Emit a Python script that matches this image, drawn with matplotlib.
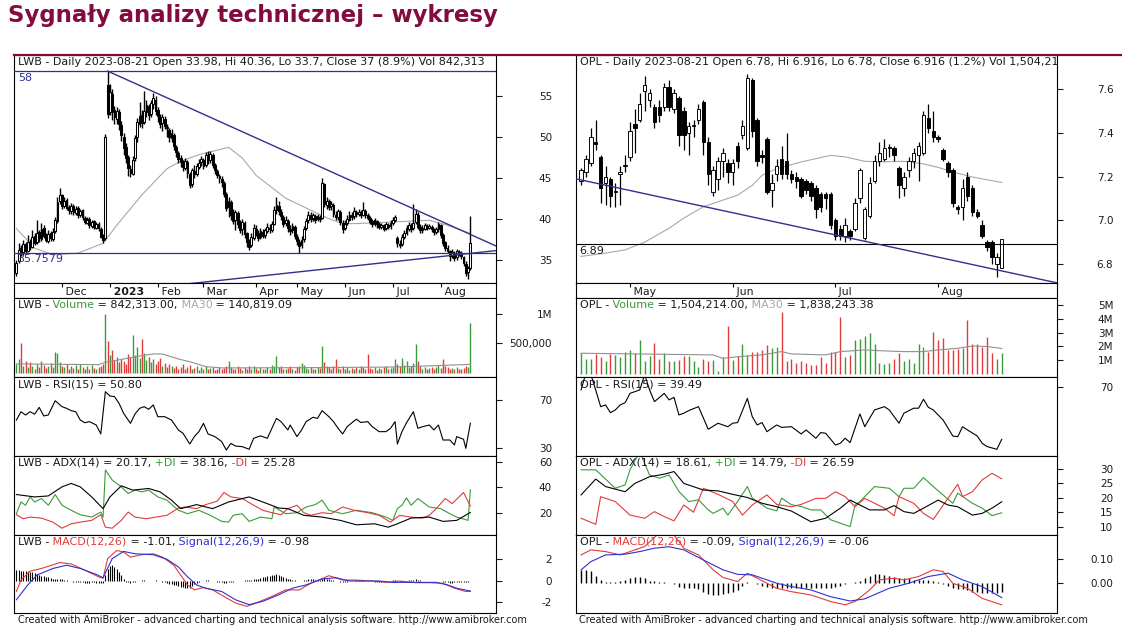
import matplotlib
matplotlib.use("Agg")
import matplotlib.pyplot as plt
from matplotlib.lines import Line2D

# ---------------- LWB daily bars (index 0 = early Nov 2022, 199 = 2023-08-21) ----------------
lwb_open = [
    33.4, 34.8, 36.4, 35.9, 36.9, 36.1, 37.1, 36.6, 37.9, 37.1,
    38.4, 37.5, 38.9, 37.8, 37.3, 38.2, 37.5, 38.5, 39.7, 42.1,
    42.9, 41.5, 42.3, 41.4, 40.9, 41.6, 40.7, 41.3, 40.4, 41.0,
    40.1, 39.5, 40.0, 39.1, 39.7, 38.9, 39.4, 38.8, 37.9, 37.6,
    56.3, 53.0, 55.2, 53.2, 52.2, 53.0, 51.4, 50.0, 48.8, 47.5,
    46.0, 45.5, 47.4, 49.9, 51.6, 52.6, 51.8, 53.0, 53.8, 52.8,
    54.0, 54.5, 53.2, 52.4, 51.7, 52.2, 51.2, 50.8, 49.8, 50.2,
    48.8, 48.0, 47.4, 46.8, 46.2, 46.9, 45.5, 44.2, 45.8, 45.5,
    46.3, 46.9, 47.2, 46.5, 47.7, 47.2, 47.8, 46.5, 45.8, 45.2,
    44.8, 44.4, 43.0, 41.4, 42.0, 40.6, 39.8, 40.7, 39.5, 38.7,
    39.5, 38.2, 37.2, 36.8, 37.7, 38.8, 38.3, 37.8, 38.4, 38.0,
    38.5, 38.9, 38.6, 39.4, 41.0, 41.6, 40.8, 40.2, 39.5, 39.7,
    38.8, 38.6, 39.0, 37.8, 37.2, 36.8, 37.5, 38.9, 39.8, 40.4,
    40.1, 40.3, 40.0, 40.2, 40.1, 44.2, 41.7, 42.1, 41.5, 41.7,
    40.5, 40.2, 40.8, 39.5, 38.9, 39.5, 39.9, 40.4, 40.3, 40.8,
    40.6, 40.7, 40.5, 40.9, 40.4, 40.1, 39.7, 39.4, 39.7, 39.3,
    39.0, 39.2, 38.9, 39.2, 39.1, 39.5, 39.8, 37.6, 36.9, 36.9,
    37.8, 38.3, 38.8, 39.1, 38.9, 39.6, 40.5, 39.0, 38.6, 38.8,
    39.1, 38.9, 39.0, 38.7, 38.4, 38.7, 39.2, 38.0, 37.1, 36.4,
    36.0, 35.5, 35.8, 35.3, 35.9, 35.8, 35.3, 34.5, 33.5, 33.98]
lwb_high = [
    35.0, 37.0, 36.8, 37.4, 37.2, 38.0, 37.5, 38.6, 38.2, 39.8,
    38.6, 39.5, 39.2, 38.2, 38.6, 38.5, 38.9, 40.2, 42.6, 43.8,
    43.0, 42.6, 42.5, 41.7, 41.9, 41.8, 41.6, 41.5, 41.2, 41.2,
    40.3, 40.2, 40.2, 39.9, 39.9, 39.6, 39.6, 39.0, 38.1, 50.3,
    58.0, 56.4, 55.8, 53.8, 53.6, 53.4, 51.9, 50.4, 49.2, 47.8,
    46.6, 47.6, 50.2, 52.3, 54.2, 53.2, 55.6, 54.5, 54.0, 54.5,
    55.3, 54.9, 53.6, 52.8, 52.8, 52.5, 51.6, 51.1, 50.9, 50.4,
    49.0, 48.3, 47.8, 47.2, 47.4, 47.1, 45.7, 46.2, 46.5, 46.8,
    47.3, 47.6, 47.4, 48.1, 48.3, 48.3, 48.0, 46.8, 46.1, 45.5,
    45.2, 44.6, 43.2, 42.7, 42.3, 41.2, 41.1, 40.9, 39.8, 40.0,
    39.7, 38.4, 37.5, 38.2, 39.3, 39.2, 38.6, 38.9, 38.7, 38.9,
    39.5, 39.3, 39.7, 41.6, 42.7, 42.2, 41.2, 40.5, 40.3, 40.0,
    39.2, 39.5, 39.2, 38.1, 37.5, 37.9, 39.1, 40.1, 40.9, 40.8,
    40.7, 40.6, 40.6, 40.5, 45.0, 44.4, 42.6, 42.4, 42.1, 41.9,
    40.9, 41.2, 41.0, 39.8, 39.8, 40.4, 40.9, 40.8, 41.4, 41.1,
    41.2, 41.0, 42.0, 41.2, 40.7, 40.3, 40.0, 40.1, 39.9, 39.6,
    39.5, 39.4, 39.6, 39.5, 39.8, 40.2, 40.5, 37.9, 37.4, 38.1,
    38.6, 39.2, 39.6, 39.5, 41.8, 41.2, 40.8, 39.3, 39.2, 39.5,
    39.4, 39.3, 39.2, 38.9, 39.0, 39.6, 39.4, 38.2, 37.3, 36.8,
    36.2, 36.3, 36.0, 36.3, 36.2, 36.1, 35.5, 34.8, 34.2, 40.36]
lwb_low = [
    33.0, 34.6, 35.4, 35.6, 35.7, 35.9, 36.2, 36.4, 36.8, 36.9,
    37.2, 37.3, 37.6, 37.1, 37.0, 37.3, 37.3, 38.2, 39.5, 41.8,
    41.2, 41.3, 41.0, 40.6, 40.6, 40.5, 40.5, 40.1, 40.2, 39.8,
    39.3, 39.3, 38.9, 38.9, 38.7, 38.7, 38.5, 37.6, 37.0, 37.4,
    52.3, 52.6, 52.0, 51.5, 51.6, 50.8, 49.5, 47.8, 46.8, 45.2,
    45.1, 45.3, 47.0, 49.4, 51.2, 51.0, 51.5, 52.4, 52.0, 52.4,
    53.4, 52.7, 51.8, 51.0, 50.7, 50.9, 49.9, 49.3, 49.4, 48.4,
    47.5, 46.8, 46.3, 45.8, 45.9, 45.0, 43.8, 43.9, 45.0, 45.2,
    46.0, 46.4, 46.1, 46.3, 46.7, 46.8, 46.2, 45.5, 44.9, 44.4,
    43.9, 42.6, 40.9, 40.2, 39.9, 39.3, 38.6, 38.9, 38.2, 38.0,
    37.6, 36.6, 36.2, 36.5, 37.4, 37.9, 37.3, 37.5, 37.6, 37.7,
    38.2, 38.3, 38.4, 39.2, 40.6, 40.4, 39.8, 39.0, 39.1, 38.4,
    38.0, 38.2, 37.5, 36.8, 35.8, 36.4, 37.2, 38.6, 39.5, 39.6,
    39.7, 39.5, 39.7, 39.6, 40.0, 41.4, 41.2, 41.0, 41.0, 40.2,
    39.8, 39.9, 39.2, 38.2, 38.6, 39.2, 39.7, 39.9, 40.0, 40.2,
    40.3, 40.1, 40.3, 40.1, 39.8, 39.3, 39.0, 39.1, 38.9, 38.7,
    38.7, 38.5, 38.6, 38.7, 38.8, 39.2, 39.6, 36.6, 36.4, 36.7,
    37.5, 38.0, 38.5, 38.4, 38.6, 39.3, 38.7, 38.2, 38.3, 38.6,
    38.6, 38.7, 38.4, 38.0, 38.1, 38.4, 37.7, 36.7, 36.0, 35.8,
    34.8, 35.2, 34.9, 35.0, 35.4, 35.1, 34.2, 33.0, 32.7, 33.7]
lwb_close = [
    34.6, 36.2, 35.8, 36.9, 36.0, 37.2, 36.5, 37.8, 37.0, 38.3,
    37.6, 38.8, 37.9, 37.4, 38.1, 37.6, 38.4, 39.8, 42.0, 42.9,
    41.6, 42.2, 41.3, 41.0, 41.5, 40.8, 41.2, 40.5, 40.9, 40.2,
    39.6, 39.9, 39.2, 39.6, 39.0, 39.3, 38.9, 37.8, 37.4, 50.0,
    52.8, 55.4, 53.0, 52.4, 53.1, 51.6, 50.2, 48.6, 47.4, 46.2,
    45.6, 47.2, 49.8, 51.8, 52.5, 51.7, 53.1, 53.9, 52.6, 54.1,
    54.7, 53.1, 52.5, 51.6, 52.4, 51.3, 51.0, 49.9, 50.4, 48.9,
    48.1, 47.3, 46.9, 46.3, 47.0, 45.6, 44.1, 45.9, 45.4, 46.4,
    46.8, 47.3, 46.4, 47.8, 47.1, 47.9, 46.6, 45.9, 45.3, 44.9,
    44.5, 43.0, 41.3, 42.1, 40.5, 39.7, 40.8, 39.4, 38.6, 39.6,
    38.1, 37.1, 36.6, 37.8, 38.9, 38.2, 37.7, 38.5, 37.9, 38.6,
    39.0, 38.7, 39.4, 41.1, 41.7, 40.9, 40.3, 39.4, 39.8, 38.9,
    38.5, 39.1, 37.9, 37.3, 36.7, 37.4, 38.8, 39.7, 40.5, 40.0,
    40.4, 39.9, 40.3, 40.0, 44.4, 41.8, 42.2, 41.4, 41.8, 40.6,
    40.2, 40.9, 39.6, 38.8, 39.4, 40.0, 40.5, 40.2, 40.9, 40.6,
    40.8, 40.5, 41.0, 40.4, 40.1, 39.6, 39.4, 39.8, 39.3, 39.0,
    39.2, 38.8, 39.3, 39.0, 39.5, 39.8, 40.2, 37.0, 36.8, 37.8,
    38.2, 38.9, 39.2, 38.8, 39.5, 40.6, 39.0, 38.6, 38.9, 39.2,
    38.9, 39.1, 38.7, 38.4, 38.8, 39.3, 38.0, 37.0, 36.4, 36.1,
    35.4, 35.9, 35.2, 36.0, 35.8, 35.4, 34.6, 33.4, 33.98, 37.0]
lwb_volume_k = [
    150, 240, 500, 120, 200, 90, 180, 110, 70, 140,
    100, 190, 130, 80, 110, 160, 90, 350, 340, 180,
    110, 90, 150, 70, 120, 80, 130, 60, 140, 90,
    70, 110, 60, 130, 80, 70, 90, 120, 150, 1000,
    540, 300, 380, 220, 270, 180, 230, 200, 150, 320,
    260, 650, 300, 430, 250, 570, 330, 220, 260, 180,
    240, 150, 200, 250, 120, 160, 90, 140, 110, 80,
    120, 60, 90, 150, 70, 100, 130, 60, 80, 110,
    50, 90, 70, 120, 60, 80, 100, 40, 70, 90,
    60, 80, 110, 200, 90, 70, 60, 120, 80, 50,
    90, 60, 110, 70, 120, 80, 50, 90, 60, 70,
    100, 60, 130, 120, 280, 90, 110, 70, 60, 80,
    110, 70, 50, 90, 120, 160, 130, 80, 60, 90,
    70, 60, 100, 80, 460, 180, 120, 90, 70, 110,
    230, 80, 60, 110, 70, 90, 50, 80, 60, 100,
    70, 110, 90, 60, 315, 80, 70, 90, 50, 80,
    60, 90, 120, 70, 80, 100, 230, 140, 110, 250,
    130, 190, 90, 120, 160, 480, 200, 110, 70, 90,
    60, 80, 90, 70, 100, 130, 80, 230, 120, 90,
    70, 80, 60, 90, 70, 60, 80, 110, 90, 842.313]
lwb_macd_hist = [
    1.0, 1.0, 0.95, 0.95, 0.9, 0.9, 0.85, 0.8, 0.7, 0.6,
    0.5, 0.45, 0.4, 0.35, 0.3, 0.25, 0.2, 0.2, 0.2, 0.15,
    0.15, 0.1, 0.05, 0.0, -0.05, -0.1, -0.1, -0.15, -0.15, -0.15,
    -0.2, -0.2, -0.2, -0.15, -0.15, -0.2, -0.2, -0.25, -0.2, 0.5,
    1.1, 1.4, 1.5, 1.3, 1.1, 0.8, 0.5, 0.2, -0.1, -0.15,
    -0.2, -0.15, -0.1, -0.05, 0.0, 0.05, 0.05, 0.0, -0.05, -0.05,
    0.0, 0.05, 0.0, -0.05, -0.1, -0.15, -0.2, -0.3, -0.35, -0.4,
    -0.45, -0.5, -0.55, -0.6, -0.65, -0.7, -0.65, -0.5, -0.3, -0.2,
    -0.1, -0.05, 0.0, 0.05, 0.05, 0.0, -0.05, -0.05, -0.1, -0.1,
    -0.15, -0.2, -0.2, -0.15, -0.1, -0.1, -0.05, -0.05, 0.0, 0.0,
    0.05, 0.05, 0.1, 0.1, 0.15, 0.15, 0.2, 0.25, 0.3, 0.35,
    0.4, 0.45, 0.5, 0.55, 0.6, 0.55, 0.45, 0.35, 0.25, 0.2,
    0.15, 0.1, 0.05, 0.0, -0.05, 0.0, 0.05, 0.1, 0.15, 0.15,
    0.15, 0.1, 0.1, 0.05, 0.2, 0.25, 0.2, 0.15, 0.1, 0.05,
    0.0, -0.05, -0.1, -0.15, -0.15, -0.1, -0.05, 0.0, 0.0, 0.05,
    0.05, 0.05, 0.05, 0.0, 0.0, -0.05, -0.05, -0.1, -0.1, -0.1,
    -0.1, -0.05, -0.05, 0.0, 0.0, 0.05, 0.05, -0.1, -0.15, -0.1,
    -0.05, 0.0, 0.05, 0.05, 0.1, 0.15, 0.1, 0.05, 0.0, 0.0,
    0.0, 0.0, 0.0, -0.05, -0.05, 0.0, -0.05, -0.1, -0.15, -0.15,
    -0.2, -0.2, -0.15, -0.15, -0.15, -0.1, -0.1, -0.1, -0.1, -0.03]

lwb_ma_x = [0, 8, 16, 27, 38, 44, 55, 66, 72, 80, 93, 99, 105, 118, 127, 137, 143, 149, 165, 181, 189, 199]
lwb_ma_y = [38.8, 36.4, 35.6, 35.8, 37.0, 39.2, 42.9, 46.1, 47.0, 47.8, 48.7, 47.4, 45.3, 42.5, 41.3,
            40.0, 39.4, 39.4, 39.6, 39.8, 39.2, 38.2]
lwb_volma_x = [0, 36, 39, 47, 55, 60, 64, 71, 77, 83, 90, 130, 165, 181, 199]
lwb_volma_k = [148, 136, 176, 233, 290, 318, 318, 233, 176, 102, 80, 85, 95, 115, 140.8]

lwb_rsi_x = [0, 2, 4, 6, 8, 10, 12, 14, 17, 20, 22, 24, 26, 28, 30, 32, 35, 37, 39, 41,
             43, 45, 47, 50, 52, 54, 56, 58, 60, 62, 65, 68, 71, 73, 76, 78, 80, 82, 84, 87,
             90, 92, 94, 96, 99, 102, 104, 107, 110, 112, 114, 116, 119, 120, 123, 125, 127, 130, 132, 134,
             137, 139, 141, 143, 145, 149, 151, 154, 156, 159, 162, 164, 166, 167, 169, 171, 174, 176, 178, 181,
             183, 185, 187, 190, 192, 193, 196, 197, 199]
lwb_rsi = [53.4, 60.3, 57.6, 60.3, 58.3, 63.9, 56.8, 57.6, 69.4, 64.5, 63.1, 61.2, 60.3, 53.4, 51.2, 52.1, 49.3, 41.9, 76.9, 73.3,
           72.8, 67.2, 59.0, 50.7, 58.5, 63.1, 64.5, 62.3, 65.9, 56.2, 56.2, 53.4, 45.2, 42.5, 33.6, 39.7, 43.8, 50.7, 41.9, 39.7,
           35.6, 28.6, 34.1, 31.9, 31.4, 29.2, 38.3, 40.3, 38.3, 46.6, 54.8, 52.1, 45.2, 49.3, 39.7, 45.2, 52.1, 55.7, 54.8, 61.2,
           56.2, 52.1, 46.6, 41.9, 48.0, 54.1, 51.4, 52.1, 47.9, 43.8, 43.8, 46.6, 52.1, 33.6, 43.8, 51.2, 60.3, 46.6, 47.9, 49.3,
           45.2, 49.3, 36.9, 36.9, 32.8, 39.7, 37.5, 30.0, 50.8]

lwb_adx_x = [0, 8, 14, 20, 24, 28, 33, 38, 41, 46, 51, 58, 63, 68, 72, 79, 86, 93, 102, 108,
             115, 119, 126, 134, 142, 149, 157, 163, 167, 173, 181, 187, 193, 199]
lwb_adx = [34.4, 32.5, 33.3, 40.5, 43.2, 40.5, 32.5, 23.2, 32.5, 41.3, 37.9, 39.2, 36.5, 29.9, 23.2, 26.4, 23.2, 28.5, 32.5, 28.5,
           23.7, 23.2, 17.9, 16.5, 13.9, 10.4, 11.2, 8.5, 11.2, 15.7, 16.5, 13.1, 13.9, 20.17]
lwb_pdi_x = [0, 2, 4, 6, 8, 11, 14, 17, 20, 24, 28, 33, 37, 38, 39, 42, 46, 49, 52, 55,
             58, 62, 66, 71, 75, 80, 85, 90, 93, 95, 99, 102, 107, 112, 113, 118, 123, 127, 131, 134,
             137, 140, 143, 149, 156, 162, 165, 167, 169, 171, 173, 176, 181, 186, 190, 193, 198, 199]
lwb_pdi = [19.2, 28.5, 25.9, 32.5, 28.5, 31.2, 25.9, 34.4, 25.9, 21.9, 18.4, 16.5, 20.5, 16.5, 53.9, 45.9, 40.5, 35.2, 37.9, 36.5,
           37.9, 32.5, 29.9, 21.9, 19.2, 21.9, 17.9, 13.1, 12.5, 17.9, 19.2, 13.1, 16.5, 15.2, 24.5, 19.2, 20.0, 24.5, 26.4, 29.9,
           21.9, 20.5, 19.2, 21.9, 20.0, 16.5, 13.9, 23.2, 25.9, 31.7, 25.9, 31.2, 24.5, 23.2, 19.2, 16.5, 13.9, 38.16]
lwb_mdi_x = [0, 3, 6, 11, 16, 20, 24, 28, 33, 37, 39, 42, 46, 49, 52, 57, 61, 66, 71, 74,
             79, 83, 88, 91, 94, 99, 104, 108, 112, 116, 119, 123, 126, 129, 134, 138, 143, 148, 154, 159,
             164, 168, 173, 178, 181, 184, 188, 191, 196, 199]
lwb_mdi = [18.4, 15.2, 16.5, 15.7, 12.5, 7.7, 11.2, 12.5, 13.9, 18.4, 8.5, 7.7, 13.9, 20.5, 16.5, 15.2, 16.5, 17.9, 23.7, 24.5,
           23.2, 26.4, 29.1, 36.0, 32.5, 31.2, 25.9, 21.9, 20.0, 18.4, 23.2, 25.9, 20.0, 17.9, 20.0, 19.2, 24.5, 21.9, 20.0, 17.9,
           12.5, 17.9, 16.5, 15.7, 17.9, 23.2, 31.2, 27.2, 36.0, 25.28]

lwb_macd_x = [0, 2, 6, 11, 19, 24, 30, 36, 38, 40, 44, 47, 50, 55, 60, 64, 69, 72, 75, 78,
              82, 86, 91, 96, 101, 105, 112, 118, 124, 129, 137, 143, 149, 156, 162, 168, 175, 181, 187, 192,
              197, 199]
lwb_macd = [-1.02, 0.06, 0.90, 1.15, 1.71, 1.58, 0.99, 0.37, 0.22, 2.08, 2.85, 2.70, 2.23, 2.45, 2.54, 2.23, 1.46, 0.53, -0.40, -0.87,
            -0.65, -0.87, -1.49, -2.11, -2.42, -2.11, -1.49, -0.87, -0.87, -0.25, 0.47, 0.06, 0.06, -0.03, -0.16, -0.03, -0.19, -0.19, -0.25, -0.71,
            -1.02, -1.01]
lwb_sig_x = [0, 5, 9, 16, 22, 28, 35, 38, 42, 47, 52, 60, 66, 71, 75, 79, 83, 90, 96, 102,
             108, 115, 121, 127, 134, 140, 146, 153, 159, 165, 171, 178, 184, 189, 193, 199]
lwb_sig = [-1.80, -0.40, 0.53, 1.15, 1.46, 1.15, 0.59, 0.28, 2.08, 2.76, 2.54, 2.45, 2.02, 1.30, 0.37, -0.40, -0.71, -1.02, -1.80, -2.26,
           -1.95, -1.33, -0.71, -0.40, 0.16, 0.28, -0.03, -0.03, -0.03, -0.16, -0.16, -0.16, -0.16, -0.40, -0.71, -0.98]

lwb_down_x, lwb_down_y = [40, 210], [58.0, 36.7]
lwb_up_x, lwb_up_y = [70, 210], [31.9, 36.1]
lwb_levels = [58.0, 35.7579]
lwb_month_idx = [20, 41, 62, 82, 105, 123, 144, 165, 186]
lwb_month_lbl = ['Dec', '2023', 'Feb', 'Mar', 'Apr', 'May', 'Jun', 'Jul', 'Aug']

# ---------------- OPL daily bars (index 0 = 2023-04-17, 86 = 2023-08-21) ----------------
opl_open = [
    7.18, 7.22, 7.26, 7.36, 7.29, 7.17, 7.19, 7.13, 7.21, 7.25,
    7.29, 7.44, 7.46, 7.59, 7.55, 7.52, 7.52, 7.52, 7.61, 7.51,
    7.56, 7.50, 7.40, 7.43, 7.46, 7.54, 7.36, 7.13, 7.19, 7.27,
    7.26, 7.22, 7.34, 7.39, 7.33, 7.64, 7.46, 7.30, 7.37, 7.14,
    7.21, 7.28, 7.27, 7.21, 7.20, 7.19, 7.18, 7.17, 7.15, 7.12,
    7.12, 7.12, 7.00, 6.96, 6.93, 6.95, 6.96, 7.10, 6.92, 7.02,
    7.18, 7.27, 7.28, 7.33, 7.33, 7.24, 7.15, 7.23, 7.27, 7.30,
    7.31, 7.47, 7.41, 7.38, 7.32, 7.26, 7.23, 7.06, 7.06, 7.20,
    7.15, 7.04, 6.98, 6.90, 6.90, 6.80, 6.78]
opl_high = [
    7.24, 7.30, 7.42, 7.46, 7.30, 7.25, 7.20, 7.17, 7.25, 7.30,
    7.45, 7.51, 7.58, 7.66, 7.60, 7.53, 7.55, 7.63, 7.64, 7.60,
    7.57, 7.52, 7.45, 7.46, 7.53, 7.55, 7.38, 7.25, 7.29, 7.33,
    7.28, 7.28, 7.36, 7.46, 7.67, 7.65, 7.47, 7.32, 7.38, 7.21,
    7.28, 7.34, 7.40, 7.23, 7.22, 7.20, 7.19, 7.18, 7.16, 7.13,
    7.13, 7.13, 7.01, 6.98, 7.01, 6.96, 7.10, 7.24, 7.06, 7.20,
    7.30, 7.36, 7.37, 7.35, 7.34, 7.25, 7.22, 7.29, 7.33, 7.36,
    7.50, 7.53, 7.50, 7.39, 7.33, 7.27, 7.24, 7.07, 7.19, 7.22,
    7.16, 7.05, 7.00, 6.91, 6.91, 6.85, 6.916]
opl_low = [
    7.16, 7.20, 7.25, 7.32, 7.08, 7.07, 7.06, 7.06, 7.07, 7.22,
    7.27, 7.31, 7.45, 7.50, 7.52, 7.42, 7.45, 7.50, 7.50, 7.49,
    7.34, 7.32, 7.30, 7.38, 7.44, 7.30, 7.16, 7.11, 7.14, 7.20,
    7.17, 7.16, 7.24, 7.37, 7.32, 7.38, 7.25, 7.26, 7.12, 7.06,
    7.18, 7.19, 7.19, 7.17, 7.15, 7.10, 7.12, 7.09, 7.01, 7.04,
    7.05, 6.96, 6.91, 6.91, 6.90, 6.91, 6.95, 7.08, 6.91, 7.01,
    7.17, 7.25, 7.27, 7.29, 7.27, 7.10, 7.11, 7.20, 7.24, 7.18,
    7.30, 7.40, 7.36, 7.36, 7.27, 7.20, 7.06, 7.03, 7.00, 7.09,
    7.02, 7.01, 6.92, 6.86, 6.80, 6.74, 6.78]
opl_close = [
    7.23, 7.28, 7.38, 7.35, 7.15, 7.20, 7.11, 7.13, 7.22, 7.25,
    7.41, 7.42, 7.53, 7.62, 7.58, 7.45, 7.48, 7.61, 7.52, 7.58,
    7.39, 7.39, 7.43, 7.43, 7.51, 7.36, 7.21, 7.23, 7.27, 7.31,
    7.22, 7.26, 7.27, 7.43, 7.65, 7.41, 7.27, 7.29, 7.13, 7.17,
    7.25, 7.21, 7.21, 7.19, 7.18, 7.11, 7.14, 7.11, 7.05, 7.06,
    7.10, 6.98, 6.93, 6.93, 6.98, 6.93, 7.08, 7.23, 7.05, 7.17,
    7.27, 7.31, 7.33, 7.33, 7.30, 7.16, 7.20, 7.27, 7.31, 7.34,
    7.48, 7.42, 7.38, 7.37, 7.28, 7.22, 7.08, 7.05, 7.15, 7.11,
    7.04, 7.02, 6.93, 6.88, 6.83, 6.83, 6.916]
opl_volume_m = [
    1.5, 1.1, 1.1, 1.45, 1.25, 0.9, 1.45, 1.35, 1.25, 1.6,
    1.7, 1.5, 2.45, 0.9, 1.3, 2.25, 1.1, 1.5, 0.9, 0.9,
    1.0, 1.3, 1.3, 0.9, 0.5, 1.1, 0.9, 1.0, 0.2, 1.25,
    3.45, 1.0, 1.3, 2.2, 1.35, 1.55, 1.6, 1.7, 2.1, 1.85,
    1.95, 4.5, 0.95, 1.1, 0.75, 0.95, 0.75, 0.65, 0.65, 1.25,
    0.75, 1.6, 1.6, 4.1, 1.25, 1.35, 2.45, 2.5, 2.75, 2.95,
    2.2, 0.75, 0.7, 0.75, 1.1, 1.5, 0.9, 1.1, 0.8, 2.2,
    1.95, 1.6, 3.05, 2.45, 2.6, 1.75, 1.75, 1.8, 1.85, 3.9,
    2.2, 2.15, 1.95, 2.7, 1.5, 1.05, 1.504]
opl_macd_hist = [
    0.055, 0.055, 0.05, 0.03, 0.015, 0.005, 0.005, 0.005, 0.01, 0.015,
    0.02, 0.025, 0.025, 0.02, 0.01, 0.01, 0.005, 0.005, 0.0, -0.005,
    -0.015, -0.02, -0.02, -0.02, -0.025, -0.035, -0.045, -0.05, -0.05, -0.045,
    -0.04, -0.035, -0.03, -0.01, 0.005, 0.0, -0.005, -0.01, -0.015, -0.02,
    -0.02, -0.02, -0.02, -0.02, -0.02, -0.02, -0.02, -0.02, -0.02, -0.02,
    -0.02, -0.02, -0.015, -0.01, -0.005, 0.0, 0.005, 0.01, 0.02, 0.03,
    0.04, 0.04, 0.035, 0.03, 0.025, 0.02, 0.02, 0.02, 0.015, 0.015,
    0.015, 0.015, 0.01, 0.005, -0.005, -0.01, -0.02, -0.025, -0.025, -0.03,
    -0.035, -0.035, -0.04, -0.04, -0.04, -0.04, -0.035]

opl_ma_x = [0, 5, 9, 13, 18, 21, 25, 30, 32, 35, 37, 40, 45, 51, 54, 58, 61, 66, 70, 73, 76, 80, 86]
opl_ma_y = [6.835, 6.85, 6.865, 6.90, 6.964, 7.01, 7.062, 7.10, 7.115, 7.16, 7.206, 7.236, 7.267, 7.297,
            7.29, 7.27, 7.267, 7.27, 7.258, 7.242, 7.221, 7.198, 7.173]
opl_volma_x = [0, 27, 29, 32, 37, 41, 43, 50, 53, 58, 62, 66, 70, 73, 77, 80, 83, 86]
opl_volma_m = [1.49, 1.37, 1.12, 1.24, 1.37, 1.61, 1.44, 1.37, 1.61, 1.73, 1.66, 1.61, 1.61, 1.73, 1.85, 2.02, 1.98, 1.838]

opl_rsi_x = [0, 1, 2, 3, 4, 5, 6, 7, 8, 9, 10, 12, 13, 14, 15, 17, 18, 19, 20, 21, 22, 24,
             26, 28, 30, 31, 32, 34, 35, 36, 37, 38, 39, 40, 41, 43, 45, 46, 48, 49, 50, 52,
             53, 54, 55, 57, 58, 59, 60, 62, 63, 65, 66, 68, 69, 70, 71, 72, 74, 76, 77, 78,
             79, 81, 82, 83, 85, 86]
opl_rsi = [68.1, 78.0, 77.0, 68.0, 58.4, 59.4, 54.9, 56.5, 59.4, 60.7, 66.1, 68.1, 77.0, 68.1, 61.3, 66.1, 62.3, 63.8, 53.6, 54.6, 56.1, 58.4,
           45.3, 48.8, 46.8, 48.8, 49.2, 63.2, 52.6, 47.8, 49.2, 43.9, 45.9, 47.8, 46.4, 46.8, 42.6, 44.9, 40.1, 43.4, 43.0, 36.2,
           37.2, 40.1, 37.6, 54.2, 46.8, 51.7, 56.5, 58.4, 56.5, 48.8, 54.6, 57.5, 57.5, 62.7, 58.0, 56.5, 50.7, 41.4, 41.0, 46.8,
           44.9, 41.4, 37.2, 35.3, 33.7, 39.49]

opl_adx_x = [0, 3, 5, 9, 11, 14, 17, 19, 21, 25, 28, 31, 34, 37, 40, 43, 47, 50, 53, 55,
             57, 59, 62, 64, 66, 68, 70, 73, 75, 77, 80, 82, 84, 86]
opl_adx = [21.0, 26.5, 23.9, 22.1, 25.0, 27.3, 28.2, 29.1, 25.0, 22.7, 22.4, 21.2, 20.1, 18.1, 16.9, 15.4, 11.7, 12.9, 16.4, 19.2,
           17.5, 15.8, 15.8, 17.3, 15.2, 14.6, 16.4, 19.2, 17.5, 16.9, 14.0, 14.6, 16.4, 18.61]
opl_pdi_x = [0, 3, 7, 9, 10, 12, 14, 16, 18, 20, 22, 24, 26, 27, 29, 30, 32, 34, 35, 38,
             40, 41, 43, 45, 47, 49, 51, 55, 56, 57, 60, 63, 65, 66, 68, 70, 72, 76, 77, 80,
             82, 84, 86]
opl_pdi = [29.7, 29.7, 23.3, 24.5, 29.7, 36.0, 27.9, 26.8, 27.9, 22.2, 18.7, 19.3, 15.8, 14.6, 16.4, 14.0, 18.7, 23.9, 19.9, 16.4,
           15.5, 19.9, 17.6, 17.0, 15.8, 15.8, 12.4, 10.0, 17.5, 18.7, 23.9, 23.3, 20.4, 23.3, 23.3, 27.0, 23.9, 18.1, 21.6, 18.1,
           16.4, 13.8, 14.79]
opl_mdi_x = [0, 3, 4, 7, 10, 13, 15, 17, 19, 21, 23, 25, 28, 31, 33, 35, 38, 40, 43, 45,
             48, 50, 52, 54, 56, 58, 62, 64, 65, 68, 70, 72, 75, 77, 78, 80, 82, 84, 86]
opl_mdi = [12.9, 10.8, 20.4, 18.7, 14.0, 12.9, 15.2, 13.5, 12.0, 17.5, 15.0, 23.3, 21.2, 18.7, 14.0, 17.5, 21.0, 17.7, 16.9, 17.7,
           19.8, 19.8, 22.1, 20.4, 16.9, 19.8, 16.4, 13.8, 20.4, 18.1, 14.6, 12.5, 19.8, 24.7, 20.4, 22.1, 26.2, 28.5, 26.59]

opl_macd_x = [0, 2, 5, 8, 10, 13, 16, 19, 21, 24, 27, 29, 32, 34, 36, 40, 43, 47, 51, 54,
              56, 59, 61, 64, 66, 69, 72, 74, 76, 79, 82, 86]
opl_macd = [0.118, 0.139, 0.132, 0.118, 0.132, 0.153, 0.21, 0.20, 0.146, 0.118, 0.056, 0.024, 0.007, 0.042, 0.021, -0.021, -0.035, -0.049, -0.076, -0.09,
            -0.076, -0.028, 0.014, 0.021, 0.014, 0.028, 0.056, 0.049, 0.0, -0.021, -0.063, -0.09]
opl_sig_x = [0, 2, 5, 9, 12, 15, 18, 21, 25, 29, 32, 35, 40, 43, 47, 51, 55, 58, 63, 67,
             71, 75, 78, 82, 86]
opl_sig = [0.056, 0.090, 0.118, 0.121, 0.132, 0.146, 0.152, 0.139, 0.097, 0.056, 0.037, 0.035, 0.0, -0.014, -0.028, -0.056, -0.074, -0.065, -0.021, 0.0,
           0.028, 0.042, 0.014, -0.014, -0.06]

opl_trend_x, opl_trend_y = [-1.1, 97.3], [7.19, 6.714]
opl_level = 6.89
opl_month_idx = [10, 31, 52, 73]
opl_month_lbl = ['May', 'Jun', 'Jul', 'Aug']

# ---------------- styling ----------------
W, H = 1122, 628
TXT = '#1a1a1a'
GREEN = '#3a9a3a'
RED = '#e03c3c'
BLUE = '#3030d0'
NAVY = '#30308f'
GRAY = '#a8a8a8'
MAROON = '#820c3e'
FS = 7.5     # axis / date labels
TFS = 8.0    # panel titles

plt.rcParams['font.family'] = ['DejaVu Sans']
fig = plt.figure(figsize=(W / 100, H / 100), dpi=100)
fig.patch.set_facecolor('white')


def box(x0, y0, x1, y1):
    return fig.add_axes([x0 / W, 1 - y1 / H, (x1 - x0) / W, (y1 - y0) / H])


def panel(x0, x1, y0, y1, xlim, ylim, ticks, labels):
    ax = box(x0, y0, x1, y1)
    ax.set_xlim(xlim)
    ax.set_ylim(ylim)
    ax.set_xticks([])
    ax.yaxis.tick_right()
    ax.set_yticks(ticks)
    ax.set_yticklabels(labels)
    ax.tick_params(axis='y', direction='out', length=4, width=0.8, pad=36.5,
                   labelsize=FS, colors=TXT)
    for t in ax.get_yticklabels():
        t.set_horizontalalignment('right')
    for s in ax.spines.values():
        s.set_linewidth(0.8)
    return ax


def title(ax, parts, clip=False):
    t = ax.annotate(parts[0][0], xy=(0, 1), xycoords='axes fraction', xytext=(4, -2),
                    textcoords='offset pixels', ha='left', va='top', color=parts[0][1],
                    fontsize=TFS)
    texts = [t]
    for s, c in parts[1:]:
        t = ax.annotate(s, xy=(1, 0), xycoords=t, ha='left', va='bottom', color=c, fontsize=TFS)
        texts.append(t)
    if clip:
        for t in texts:
            t.set_clip_box(ax.bbox)
            t.set_clip_on(True)


def candles(ax, o, h, l, c, width, lw):
    idx = list(range(len(c)))
    ax.vlines(idx, l, h, color='black', lw=lw, zorder=2)
    bottoms = [min(a, b) for a, b in zip(o, c)]
    heights = [max(abs(b - a), 0.004) for a, b in zip(o, c)]
    faces = ['white' if b >= a else 'black' for a, b in zip(o, c)]
    ax.bar(idx, heights, width, bottom=bottoms, color=faces, edgecolor='black',
           linewidth=lw * 0.75, zorder=3)


def date_strip(x0, x1, xlim, months, labels):
    ax = box(x0, 283.3, x1, 298.3)
    ax.set_xlim(xlim)
    ax.set_ylim(0, 1)
    ax.set_yticks([])
    ax.set_xticks(months)
    ax.tick_params(axis='x', top=True, bottom=False, direction='in', length=3,
                   width=0.8, labeltop=False, labelbottom=False)
    for s in ax.spines.values():
        s.set_linewidth(0.8)
    for m, lbl in zip(months, labels):
        ax.text(m, 0.45, ' ' + lbl, ha='left', va='center', fontsize=FS + 0.3, color=TXT,
                fontweight='bold' if lbl.isdigit() else 'normal')


# page title
fig.text(8 / W, 1 - 22 / H, 'Sygnały analizy technicznej – wykresy', fontsize=16.5,
         fontweight='bold', color=MAROON, va='baseline', ha='left')

# ================= LWB (left) =================
LX0, LX1 = 14, 495.7
lxlim = (-1.05, 210.1)
lidx = list(range(len(lwb_close)))

ax = panel(LX0, LX1, 55, 283.3, lxlim, (32.12, 59.96), [35, 40, 45, 50, 55],
           ['35', '40', '45', '50', '55'])
ax.plot(lwb_ma_x, lwb_ma_y, color=GRAY, lw=0.8, zorder=1)
for lv in lwb_levels:
    ax.axhline(lv, color=NAVY, lw=0.9, zorder=4)
ax.plot(lwb_down_x, lwb_down_y, color=NAVY, lw=1.0, zorder=4)
ax.plot(lwb_up_x, lwb_up_y, color=NAVY, lw=1.0, zorder=4)
candles(ax, lwb_open, lwb_high, lwb_low, lwb_close, 0.8, 1.0)
ax.annotate('58', xy=(0, lwb_levels[0]), xycoords=('axes fraction', 'data'), xytext=(4, -2),
            textcoords='offset pixels', va='top', ha='left', fontsize=TFS, color=NAVY)
ax.annotate('35.7579', xy=(0, lwb_levels[1]), xycoords=('axes fraction', 'data'), xytext=(3, -1),
            textcoords='offset pixels', va='top', ha='left', fontsize=TFS, color=NAVY)
title(ax, [('LWB - Daily 2023-08-21 Open 33.98, Hi 40.36, Lo 33.7, Close 37 (8.9%) Vol 842,313', TXT)],
      clip=True)

date_strip(LX0, LX1, lxlim, lwb_month_idx, lwb_month_lbl)

# volume
ax = panel(LX0, LX1, 298.3, 377.3, lxlim, (-80, 1268), [500, 1000], ['500,000', '1M'])
vcol = [GREEN if c >= o else RED for o, c in zip(lwb_open, lwb_close)]
ax.vlines(lidx, 0, lwb_volume_k, colors=vcol, lw=1.0)
ax.plot(lwb_volma_x, lwb_volma_k, color='#909090', lw=0.8)
title(ax, [('LWB -', TXT), (' Volume', GREEN), (' = 842,313.00,', TXT), (' MA30', GRAY),
           (' = 140,819.09', TXT)])

# RSI
ax = panel(LX0, LX1, 377.3, 455.7, lxlim, (23.9, 88.8), [30, 70], ['30', '70'])
ax.plot(lwb_rsi_x, lwb_rsi, color='black', lw=0.8)
title(ax, [('LWB - RSI(15) = 50.80', TXT)])

# ADX
ax = panel(LX0, LX1, 455.7, 535, lxlim, (2.3, 65.2), [20, 40, 60], ['20', '40', '60'])
ax.plot(lwb_pdi_x, lwb_pdi, color=GREEN, lw=0.8)
ax.plot(lwb_mdi_x, lwb_mdi, color=RED, lw=0.8)
ax.plot(lwb_adx_x, lwb_adx, color='black', lw=0.8)
title(ax, [('LWB - ADX(14) = 20.17,', TXT), (' +DI', GREEN), (' = 38.16,', TXT), (' -DI', RED),
           (' = 25.28', TXT)])

# MACD
ax = panel(LX0, LX1, 535, 613, lxlim, (-3.05, 4.31), [-2, 0, 2], ['-2', '0', '2'])
ax.vlines(lidx, 0, lwb_macd_hist, color='black', lw=0.8)
ax.plot(lwb_macd_x, lwb_macd, color=RED, lw=0.8)
ax.plot(lwb_sig_x, lwb_sig, color=BLUE, lw=0.8)
title(ax, [('LWB -', TXT), (' MACD(12,26)', RED), (' = -1.01,', TXT), (' Signal(12,26,9)', BLUE),
           (' = -0.98', TXT)])

# ================= OPL (right) =================
RX0, RX1 = 575.7, 1057
rxlim = (-1.1, 97.3)
ridx = list(range(len(opl_close)))

ax = panel(RX0, RX1, 55, 283.3, rxlim, (6.712, 7.756), [6.8, 7.0, 7.2, 7.4, 7.6],
           ['6.8', '7.0', '7.2', '7.4', '7.6'])
ax.plot(opl_ma_x, opl_ma_y, color=GRAY, lw=0.8, zorder=1)
ax.axhline(opl_level, color='black', lw=0.8, zorder=4)
ax.plot(opl_trend_x, opl_trend_y, color=NAVY, lw=1.0, zorder=4)
candles(ax, opl_open, opl_high, opl_low, opl_close, 0.7, 0.9)
ax.annotate('6.89', xy=(0, opl_level), xycoords=('axes fraction', 'data'), xytext=(4, -2),
            textcoords='offset pixels', va='top', ha='left', fontsize=TFS, color=TXT)
title(ax, [('OPL - Daily 2023-08-21 Open 6.78, Hi 6.916, Lo 6.78, Close 6.916 (1.2%) Vol 1,504,214', TXT)],
      clip=True)

date_strip(RX0, RX1, rxlim, opl_month_idx, opl_month_lbl)

ax = panel(RX0, RX1, 298.3, 377.3, rxlim, (-0.26, 5.49), [1, 2, 3, 4, 5],
           ['1M', '2M', '3M', '4M', '5M'])
vcol = [GREEN if c >= o else RED for o, c in zip(opl_open, opl_close)]
ax.vlines(ridx, 0, opl_volume_m, colors=vcol, lw=1.0)
ax.plot(opl_volma_x, opl_volma_m, color='#909090', lw=0.8)
title(ax, [('OPL -', TXT), (' Volume', GREEN), (' = 1,504,214.00,', TXT), (' MA30', GRAY),
           (' = 1,838,243.38', TXT)])

ax = panel(RX0, RX1, 377.3, 455.7, rxlim, (30.0, 75.4), [70], ['70'])
ax.plot(opl_rsi_x, opl_rsi, color='black', lw=0.8)
title(ax, [('OPL - RSI(15) = 39.49', TXT)])

ax = panel(RX0, RX1, 455.7, 535, rxlim, (7.1, 34.6), [10, 15, 20, 25, 30],
           ['10', '15', '20', '25', '30'])
ax.plot(opl_pdi_x, opl_pdi, color=GREEN, lw=0.8)
ax.plot(opl_mdi_x, opl_mdi, color=RED, lw=0.8)
ax.plot(opl_adx_x, opl_adx, color='black', lw=0.8)
title(ax, [('OPL - ADX(14) = 18.61,', TXT), (' +DI', GREEN), (' = 14.79,', TXT), (' -DI', RED),
           (' = 26.59', TXT)])

ax = panel(RX0, RX1, 535, 613, rxlim, (-0.124, 0.201), [0.0, 0.1], ['0.00', '0.10'])
ax.vlines(ridx, 0, opl_macd_hist, color='black', lw=1.0)
ax.plot(opl_macd_x, opl_macd, color=RED, lw=0.8)
ax.plot(opl_sig_x, opl_sig, color=BLUE, lw=0.8)
title(ax, [('OPL -', TXT), (' MACD(12,26)', RED), (' = -0.09,', TXT), (' Signal(12,26,9)', BLUE),
           (' = -0.06', TXT)])

# red rule drawn on top of the panel borders
fig.add_artist(Line2D([14 / W, 1], [1 - 54.5 / H, 1 - 54.5 / H], color=MAROON, lw=1.6))

foot = 'Created with AmiBroker - advanced charting and technical analysis software. http://www.amibroker.com'
fig.text(18 / W, 1 - 620 / H, foot, fontsize=7.0, color=TXT, va='center', ha='left')
fig.text(579 / W, 1 - 620 / H, foot, fontsize=7.0, color=TXT, va='center', ha='left')

fig.savefig('out.png', dpi=100, facecolor='white')
